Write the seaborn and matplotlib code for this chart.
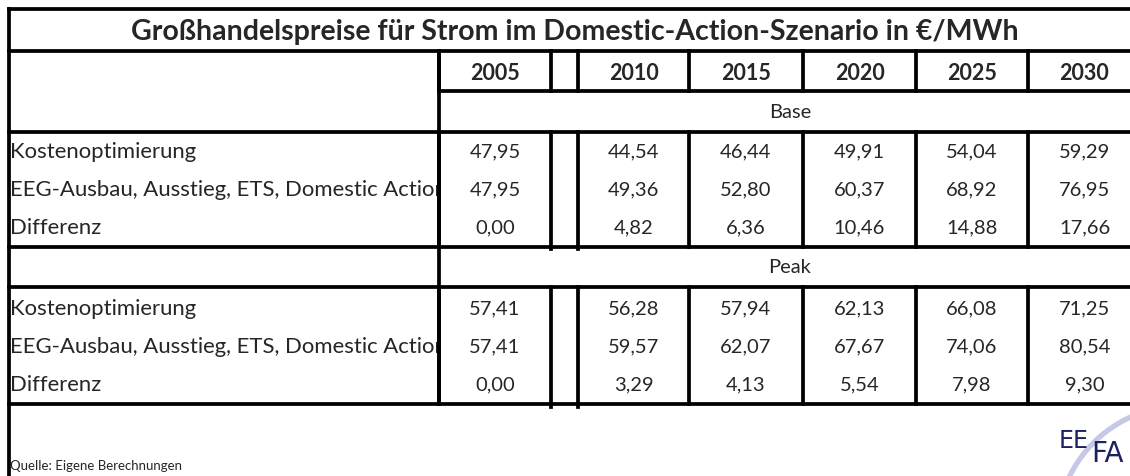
import numpy as np
import pandas as pd
import seaborn as sns
import matplotlib.pyplot as plt
from matplotlib.patches import Rectangle, Arc

# data
title = 'Großhandelspreise für Strom im Domestic-Action-Szenario in €/MWh'
years = ['2005', '2010', '2015', '2020', '2025', '2030']
row_labels = ['Kostenoptimierung', 'EEG-Ausbau, Ausstieg, ETS, Domestic Action', 'Differenz']
base_kosten = [47.95, 44.54, 46.44, 49.91, 54.04, 59.29]
base_eeg = [47.95, 49.36, 52.80, 60.37, 68.92, 76.95]
base_diff = [0.00, 4.82, 6.36, 10.46, 14.88, 17.66]
peak_kosten = [57.41, 56.28, 57.94, 62.13, 66.08, 71.25]
peak_eeg = [57.41, 59.57, 62.07, 67.67, 74.06, 80.54]
peak_diff = [0.00, 3.29, 4.13, 5.54, 7.98, 9.30]
source = 'Quelle: Eigene Berechnungen'

df = pd.DataFrame(
    [base_kosten, base_eeg, base_diff, peak_kosten, peak_eeg, peak_diff],
    columns=years,
    index=pd.MultiIndex.from_product([['Base', 'Peak'], row_labels]),
)

sns.set_theme(style='white')
plt.rcParams['font.family'] = ['Lato', 'DejaVu Sans']

# layout in pixels
W, H = 1130, 477
x_left, x_lab, x_right = 9, 439, 1141
col_edges = [(439, 551), (578, 689), (689, 803), (803, 916), (916, 1028), (1028, 1141)]
y_top, y_title, y_head, y_base, y_base_end, y_peak, y_end = 10, 52, 92, 133, 248, 288, 405
base_rows = [152, 190, 228]
peak_rows = [309, 347, 385]
lw = 2.7

fig = plt.figure(figsize=(W / 100, H / 100), dpi=100)
ax = fig.add_axes([0, 0, 1, 1])
ax.set_xlim(0, W)
ax.set_ylim(H, 0)
ax.axis('off')

def hline(y, x0, x1):
    ax.plot([x0, x1], [y, y], color='black', lw=lw, solid_capstyle='projecting')

def vline(x, y0, y1):
    ax.plot([x, x], [y0, y1], color='black', lw=lw, solid_capstyle='projecting')

# horizontal rules
for y in [y_top, y_title, y_base, y_base_end, y_peak, y_end]:
    hline(y, x_left, W + 20)
hline(y_head, x_lab, W + 20)

# vertical rules
vline(x_left, y_top, H + 5)
edges = sorted(set([e for c in col_edges for e in c]) - {1141})
for x in edges:
    vline(x, y_title, y_head)
    vline(x, y_base, y_base_end + (2 if x in (551, 578) else 0))
    vline(x, y_peak, y_end + (3 if x in (551, 578) else 0))
vline(x_lab, y_title, y_end)

# title
ax.text((x_left + x_right) / 2, (y_top + y_title) / 2 + 1, title, ha='center',
        va='center', fontsize=20.5, fontweight='bold')

# year header
for (a, b), yr in zip(col_edges, years):
    ax.text((a + b) / 2, (y_title + y_head) / 2 + 1, yr, ha='center', va='center',
            fontsize=15.5, fontweight='bold')

for grp, y0, y1, rows in [('Base', y_head, y_base, base_rows), ('Peak', y_base_end, y_peak, peak_rows)]:
    ax.text((x_lab + x_right) / 2, (y0 + y1) / 2, grp, ha='center', va='center', fontsize=14.5)
    sub = df.loc[grp]
    for yy, lab in zip(rows, row_labels):
        t = ax.text(x_left + 1, yy, lab, ha='left', va='center', fontsize=15.9, clip_on=True)
        t.set_clip_path(Rectangle((x_left, yy - 20), x_lab - x_left - 2, 40, transform=ax.transData))
        for (a, b), yr in zip(col_edges, years):
            v = sub.loc[lab, yr]
            ax.text((a + b) / 2, yy, f'{v:.2f}'.replace('.', ','), ha='center',
                    va='center', fontsize=14.5)

ax.text(x_left + 1, 466, source, ha='left', va='center', fontsize=9.5)

# EEFA logo
ax.add_patch(Arc((1182, 532), 250, 250, theta1=198, theta2=258, color='#c5c8e6', lw=3.8))
ax.text(1074, 441, 'EE', ha='center', va='center', fontsize=17,
        family=['Liberation Sans Narrow', 'DejaVu Sans'], color='#1c2160')
ax.text(1107, 454, 'FA', ha='center', va='center', fontsize=20,
        family=['Liberation Sans Narrow', 'DejaVu Sans'], color='#1c2160')

fig.savefig('out.png', dpi=100, facecolor='white')
